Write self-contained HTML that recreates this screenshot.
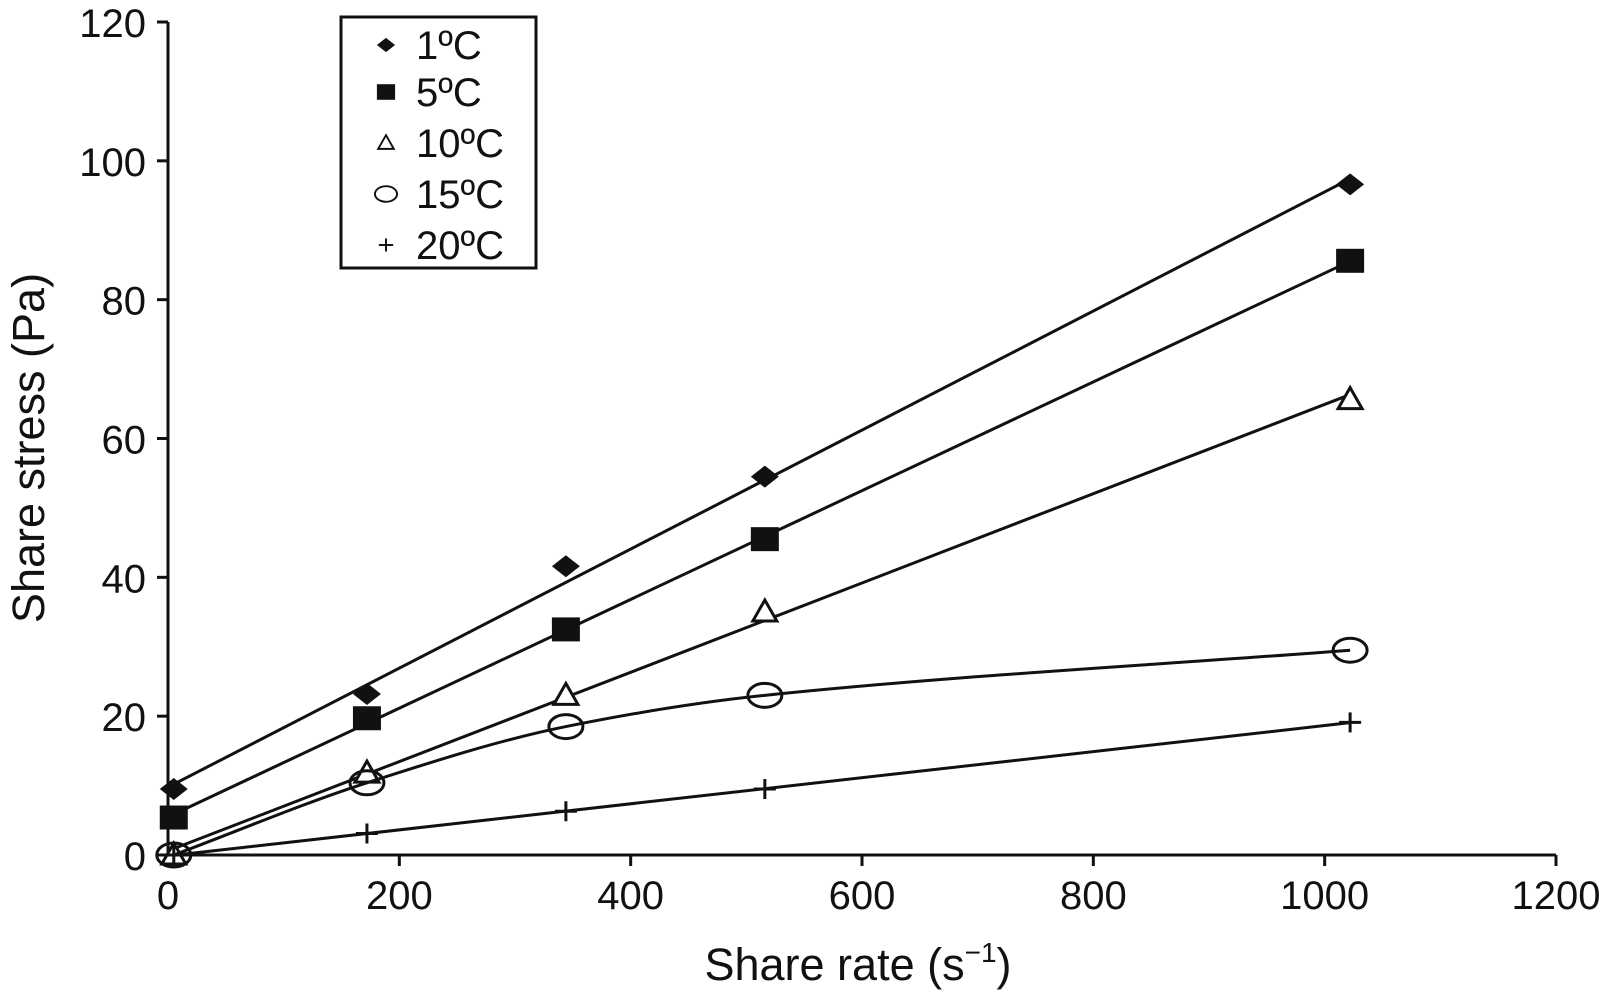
<!DOCTYPE html>
<html><head><meta charset="utf-8"><style>
html,body{margin:0;padding:0;background:#fff;}
svg{display:block;font-family:"Liberation Sans",Arial,sans-serif;}
</style></head><body>
<svg id="chart" width="1600" height="992" viewBox="0 0 1600 992" xmlns="http://www.w3.org/2000/svg"></svg>
<script>
const xValues = [5, 172, 344, 516, 1022];
const series1C = [9.5, 23.2, 41.6, 54.5, 96.6];
const series5C = [5.4, 19.7, 32.5, 45.5, 85.6];
const series10C = [0, 11.8, 23, 35, 65.6];
const series15C = [0, 10.4, 18.5, 23, 29.5];
const series20C = [0, 3.1, 6.3, 9.5, 19.1];
const seriesNames = ["1ºC", "5ºC", "10ºC", "15ºC", "20ºC"];
const xTicks = [0, 200, 400, 600, 800, 1000, 1200];
const yTicks = [0, 20, 40, 60, 80, 100, 120];

const NS = "http://www.w3.org/2000/svg";
const svg = document.getElementById('chart');
const X0 = 168, X1 = 1556, Y0 = 855, Y1 = 22;
const sx = v => X0 + (v - 0) / 1200 * (X1 - X0);
const sy = v => Y0 - (v - 0) / 120 * (Y0 - Y1);
function mk(tag, attrs, parent) {
  const e = document.createElementNS(NS, tag);
  for (const k in attrs) e.setAttribute(k, attrs[k]);
  (parent || svg).appendChild(e);
  return e;
}
const S = {stroke: "#111", "stroke-width": 3, fill: "none"};

const axes = mk('g', {});


mk('line', Object.assign({x1: X0, y1: Y0, x2: X1, y2: Y0}, S), axes);
mk('line', Object.assign({x1: X0, y1: Y0, x2: X0, y2: Y1}, S), axes);
xTicks.forEach(t => {
  mk('line', Object.assign({x1: sx(t), y1: Y0, x2: sx(t), y2: Y0 + 11}, S), axes);
  const tx = mk('text', {x: sx(t), y: Y0 + 54, "font-size": 40, "text-anchor": "middle", fill: "#111"}, axes);
  
  
  tx.textContent = t;
});
yTicks.forEach(t => {
  mk('line', Object.assign({x1: X0 - 11, y1: sy(t), x2: X0, y2: sy(t)}, S), axes);
  const tx = mk('text', {x: X0 - 22, y: sy(t) + 15, "font-size": 40, "text-anchor": "end", fill: "#111"}, axes);
  
  
  tx.textContent = t;
});
const xt = mk('text', {x: 858, y: 980, "font-size": 45, "text-anchor": "middle", fill: "#111"});


xt.innerHTML = 'Share rate (s<tspan font-size="28" dy="-18">−1</tspan><tspan dy="18">)</tspan>';
const yt = mk('text', {x: 0, y: 0, "font-size": 45, "text-anchor": "middle", fill: "#111", transform: "translate(44,448) rotate(-90)"});


yt.textContent = 'Share stress (Pa)';

function marker(type, cx, cy, g) {
  if (type === 0) mk('path', {d: `M${cx-14},${cy} L${cx},${cy-11} L${cx+14},${cy} L${cx},${cy+11}Z`, fill: "#111"}, g);
  else if (type === 1) mk('rect', {x: cx-14, y: cy-12, width: 28, height: 24, fill: "#111"}, g);
  else if (type === 2) mk('path', {d: `M${cx-12},${cy+9} L${cx},${cy-12} L${cx+12},${cy+9}Z`, fill: "#fff", stroke: "#111", "stroke-width": 3}, g);
  else if (type === 3) mk('ellipse', {cx: cx, cy: cy, rx: 17, ry: 12, fill: "none", stroke: "#111", "stroke-width": 3}, g);
  else { mk('line', {x1: cx-11, y1: cy, x2: cx+11, y2: cy, stroke: "#111", "stroke-width": 3}, g);
         mk('line', {x1: cx, y1: cy-10, x2: cx, y2: cy+10, stroke: "#111", "stroke-width": 3}, g); }
}
function linfit(xs, ys) {
  const n = xs.length; let mx = 0, my = 0;
  xs.forEach((x, i) => { mx += x; my += ys[i]; }); mx /= n; my /= n;
  let num = 0, den = 0;
  xs.forEach((x, i) => { num += (x - mx) * (ys[i] - my); den += (x - mx) ** 2; });
  const b = num / den; return [my - b * mx, b];
}
function monotonePath(p) {
  const n = p.length, d = [], m = [];
  for (let i = 0; i < n - 1; i++) d.push((p[i+1][1] - p[i][1]) / (p[i+1][0] - p[i][0]));
  m.push(d[0]);
  for (let i = 1; i < n - 1; i++) m.push(d[i-1] * d[i] <= 0 ? 0 : 2 / (1 / d[i-1] + 1 / d[i]));
  m.push(d[n-2]);
  let s = `M${p[0][0]},${p[0][1]}`;
  for (let i = 0; i < n - 1; i++) {
    const h = (p[i+1][0] - p[i][0]) / 3;
    s += ` C${p[i][0]+h},${p[i][1]+m[i]*h} ${p[i+1][0]-h},${p[i+1][1]-m[i+1]*h} ${p[i+1][0]},${p[i+1][1]}`;
  }
  return s;
}
const allSeries = [series1C, series5C, series10C, series15C, series20C];
allSeries.forEach((ys, si) => {
  const g = mk('g', {});
  
  
  if (si === 3) {
    const p = xValues.map((x, i) => [sx(x), sy(ys[i])]);
    mk('path', Object.assign({d: monotonePath(p)}, S), g);
  } else {
    const [a, b] = linfit(xValues, ys);
    const xa = xValues[0], xb = xValues[xValues.length - 1];
    mk('line', Object.assign({x1: sx(xa), y1: sy(a + b * xa), x2: sx(xb), y2: sy(a + b * xb)}, S), g);
  }
  xValues.forEach((x, i) => marker(si, sx(x), sy(ys[i]), g));
});

const lg = mk('g', {});


mk('rect', {x: 341, y: 17, width: 195, height: 251, fill: "#fff", stroke: "#111", "stroke-width": 3}, lg);
const rowsY = [45, 92, 143, 194, 245];
seriesNames.forEach((nm, i) => {
  const e = mk('g', {}, lg);
  
  
  const m = mk('g', {transform: `translate(386,${rowsY[i]}) scale(0.65) translate(-386,${-rowsY[i]})`}, e);
  marker(i, 386, rowsY[i], m);
  const t = mk('text', {x: 416, y: rowsY[i] + 14, "font-size": 40, fill: "#111"}, e);
  t.textContent = nm;
});
</script>
</body></html>
